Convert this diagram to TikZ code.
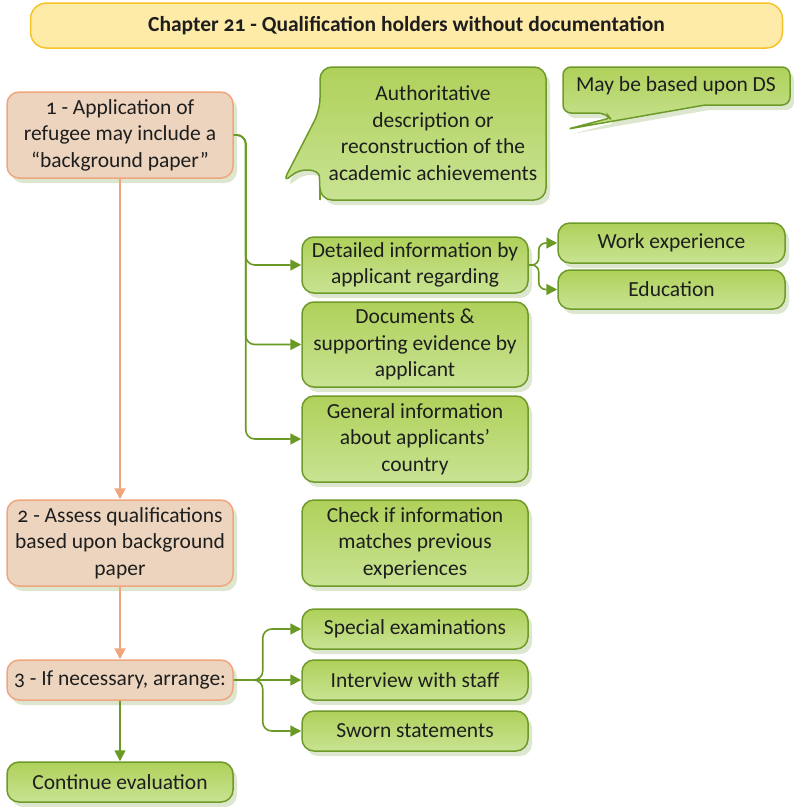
\documentclass[tikz,border=0pt]{standalone}
\usepackage{fontspec}
\setmainfont{Carlito}[Numbers=OldStyle]
\usetikzlibrary{arrows.meta,shadows}
\definecolor{gtop}{HTML}{AFD15A}
\definecolor{gbot}{HTML}{C8E393}
\definecolor{gdraw}{HTML}{6E9A2A}
\definecolor{garrow}{HTML}{6A9A24}
\definecolor{pfill}{HTML}{EDD4BE}
\definecolor{pdraw}{HTML}{EFA67F}
\definecolor{yfill}{HTML}{FFEBA8}
\definecolor{ydraw}{HTML}{F6C32B}
\definecolor{shd}{HTML}{DDE7CF}
\definecolor{txt}{HTML}{1E1E1E}
\tikzset{
 shad/.style={drop shadow={shadow xshift=4pt,shadow yshift=-5pt,fill=shd,opacity=1}},
 base/.style={rounded corners=12pt, line width=1.5pt, align=center, text=txt,
   font=\fontsize{21.5}{26.5}\selectfont, inner sep=0pt, shad},
 gbox/.style={base, draw=gdraw, top color=gtop, bottom color=gbot},
 pbox/.style={base, draw=pdraw, fill=pfill},
 callout/.style={line width=1.5pt, draw=gdraw, top color=gtop, bottom color=gbot, shad},
 ctext/.style={align=center, text=txt, font=\fontsize{21.5}{26.5}\selectfont, inner sep=0pt},
 garr/.style={draw=garrow, line width=1.6pt, -{Triangle[length=11pt,width=11pt]}, rounded corners=9pt},
 parr/.style={draw=pdraw, line width=1.6pt, -{Triangle[length=11pt,width=11pt]}},
}
\begin{document}
\begin{tikzpicture}[x=1pt,y=-1pt]
\useasboundingbox (0,0) rectangle (795,807);
% title
\node[draw=ydraw, fill=yfill, line width=1.5pt, rounded corners=16pt, minimum width=752pt, minimum height=45pt, inner sep=0pt, text=txt, font=\bfseries\fontsize{21.5}{26}\selectfont] (title) at (406.5,25.5) {Chapter 21 - Qualification holders without documentation};
% left column
\node[pbox, minimum width=226pt, minimum height=86pt] (b1) at (120,135) {1 - Application of\\refugee may include a\\“background paper”};
\node[pbox, minimum width=226pt, minimum height=86pt] (b2) at (120,543) {2 - Assess qualifications\\based upon background\\paper};
\node[pbox, minimum width=226pt, minimum height=40pt] (b3) at (120,680) {3 - If necessary, arrange:};
\node[gbox, minimum width=226pt, minimum height=40pt] (cont) at (120,782) {Continue evaluation};
% middle column
\node[gbox, minimum width=226pt, minimum height=56pt] (det) at (415,265) {Detailed information by\\applicant regarding};
\node[gbox, minimum width=226pt, minimum height=85pt] (doc) at (415,344.5) {Documents \&\\supporting evidence by\\applicant};
\node[gbox, minimum width=226pt, minimum height=86pt] (gen) at (415,439) {General information\\about applicants’\\country};
\node[gbox, minimum width=226pt, minimum height=86pt] (chk) at (415,543) {Check if information\\matches previous\\experiences};
\node[gbox, minimum width=226pt, minimum height=40pt] (spec) at (415,629) {Special examinations};
\node[gbox, minimum width=226pt, minimum height=40pt] (intv) at (415,680) {Interview with staff};
\node[gbox, minimum width=226pt, minimum height=40pt] (sworn) at (415,731) {Sworn statements};
% right column
\node[gbox, minimum width=227pt, minimum height=40pt] (work) at (671.5,243) {Work experience};
\node[gbox, minimum width=227pt, minimum height=39pt] (edu) at (671.5,289.5) {Education};
% callouts
\path[callout, rounded corners=12pt] (320,110) -- (320,67) -- (546,67) -- (546,200) -- (320,200) -- (320,188) .. controls (319,170) and (302,166) .. (282,184) -- cycle;
\node[ctext] (c1) at (433,133) {Authoritative\\description or\\reconstruction of the\\academic achievements};
\path[callout, rounded corners=8pt] (705,105) -- (790,105) -- (790,67) -- (563,67) -- (563,113) -- (606,113) [rounded corners=3pt] -- (610,118) -- (568,129) -- cycle;
\node[ctext] (c2) at (676,86) {May be based upon DS};
% connectors
\draw[garr] (b1.east) -- ++(12,0) |- (det.west);
\draw[garr] (b1.east) -- ++(12,0) |- (doc.west);
\draw[garr] (b1.east) -- ++(12,0) |- (gen.west);
\draw[parr] (b1.south) -- (b2.north);
\draw[parr] (b2.south) -- (b3.north);
\draw[garr] (b3.south) -- (cont.north);
\draw[garr] (b3.east) -- ++(29,0) |- (spec.west);
\draw[garr] (b3.east) -- (intv.west);
\draw[garr] (b3.east) -- ++(29,0) |- (sworn.west);
\draw[garr, rounded corners=7pt] (det.east) -- ++(10,0) |- (work.west);
\draw[garr, rounded corners=7pt] (det.east) -- ++(10,0) |- (edu.west);
\end{tikzpicture}
\end{document}
